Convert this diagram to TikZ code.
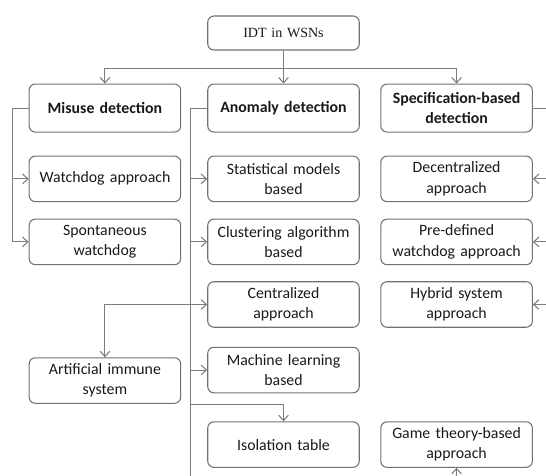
\documentclass[tikz,border=0pt]{standalone}
\usepackage{fontspec}
\setmainfont{Carlito}
\newfontfamily\rootfont{Liberation Serif}
\usepackage{tikz}
\usetikzlibrary{positioning,arrows.meta}
\definecolor{edgegray}{HTML}{707070}
\definecolor{linegray}{HTML}{7C7C7C}
\tikzset{box/.style={draw=edgegray,rounded corners=3.5pt,line width=0.6pt,align=center,text width=2.96cm,inner sep=1pt,minimum height=0.91cm,text=black!90,font=\fontsize{9}{11.5}\selectfont},
	 head/.style={box,minimum height=0.96cm,font=\fontsize{9}{11.5}\selectfont\bfseries},
	 rootbox/.style={box,minimum height=0.68cm,font=\rootfont\fontsize{8}{9}\selectfont},
	 link/.style={draw=linegray,line width=0.6pt},
	 arr/.style={link,-{Straight Barb[length=3pt,width=5.5pt]}},
	 node distance = 0.33
	 }

\begin{document}
\begin{tikzpicture} % taxonomy of IDT in WSNs
	\useasboundingbox (0,0) rectangle (10.92,-9.5);
	\clip (0,0) rectangle (10.92,-9.5);
	\node[rootbox] (idt) at (5.67,-0.66) {IDT in WSNs};
	\node[head] (anom) [below=0.66 of idt] {Anomaly detection};
	\node[head] (mis) [left=0.52 of anom] {Misuse detection};
	\node[head] (spec) [right=0.41 of anom] {Specification-based\\detection};
	% misuse
	\node[box] (wdog) [below=0.46 of mis] {Watchdog approach};
	\node[box] (spont) [below=of wdog] {Spontaneous\\watchdog};
	% anomaly
	\node[box] (stat) [below=0.46 of anom] {Statistical models\\based};
	\node[box] (clus) [below=of stat] {Clustering algorithm\\based};
	\node[box] (cent) [below=0.32 of clus] {Centralized\\approach};
	\node[box] (ml) [below=0.38 of cent] {Machine learning\\based};
	\node[box] (ais) [left=0.52 of ml,yshift=-0.21cm] {Artificial immune\\system};
	\node[box] (iso) [below=0.56 of ml] {Isolation table};
	% specification
	\node[box] (dec) [below=0.46 of spec] {Decentralized\\approach};
	\node[box] (pre) [below=of dec] {Pre-defined\\watchdog approach};
	\node[box] (hyb) [below=0.32 of pre] {Hybrid system\\approach};
	\node[box] (game) [right=0.41 of iso] {Game theory-based\\approach};
	% branch points
	\coordinate (bar) at ([yshift=-0.36cm]idt.south);
	\coordinate (mtop) at ([xshift=-0.33cm]mis.west);
	\coordinate (atop) at ([xshift=-0.33cm]anom.west);
	\coordinate (abot) at (atop |- 0,-9.7);
	\coordinate (stop) at ([xshift=0.4cm]spec.east);
	\coordinate (isoj) at ([yshift=-0.22cm]ml.south);
	\draw[arr] (idt) -- (anom);
	\draw[arr] (bar) -| (mis);
	\draw[arr] (bar) -| (spec);
	\draw[link] (mis.west) -- (mtop);
	\draw[arr] (mtop) |- (spont);
	\draw[arr] (mtop |- wdog) -- (wdog);
	\draw[link] (anom.west) -- (atop) -- (abot);
	\foreach \n in {stat,clus,cent,ml}
	  \draw[arr] (atop |- \n) -- (\n);
	\draw[arr] (atop |- cent) -| (ais);
	\draw[arr] (atop |- isoj) -| (iso);
	\draw[link] (spec.east) -- (stop) -- (stop |- hyb.south);
	\foreach \n in {dec,pre,hyb}
	  \draw[arr] (stop |- \n) -- (\n);
	\draw[arr] (game |- abot) -- (game);
     \end{tikzpicture}
\end{document}
